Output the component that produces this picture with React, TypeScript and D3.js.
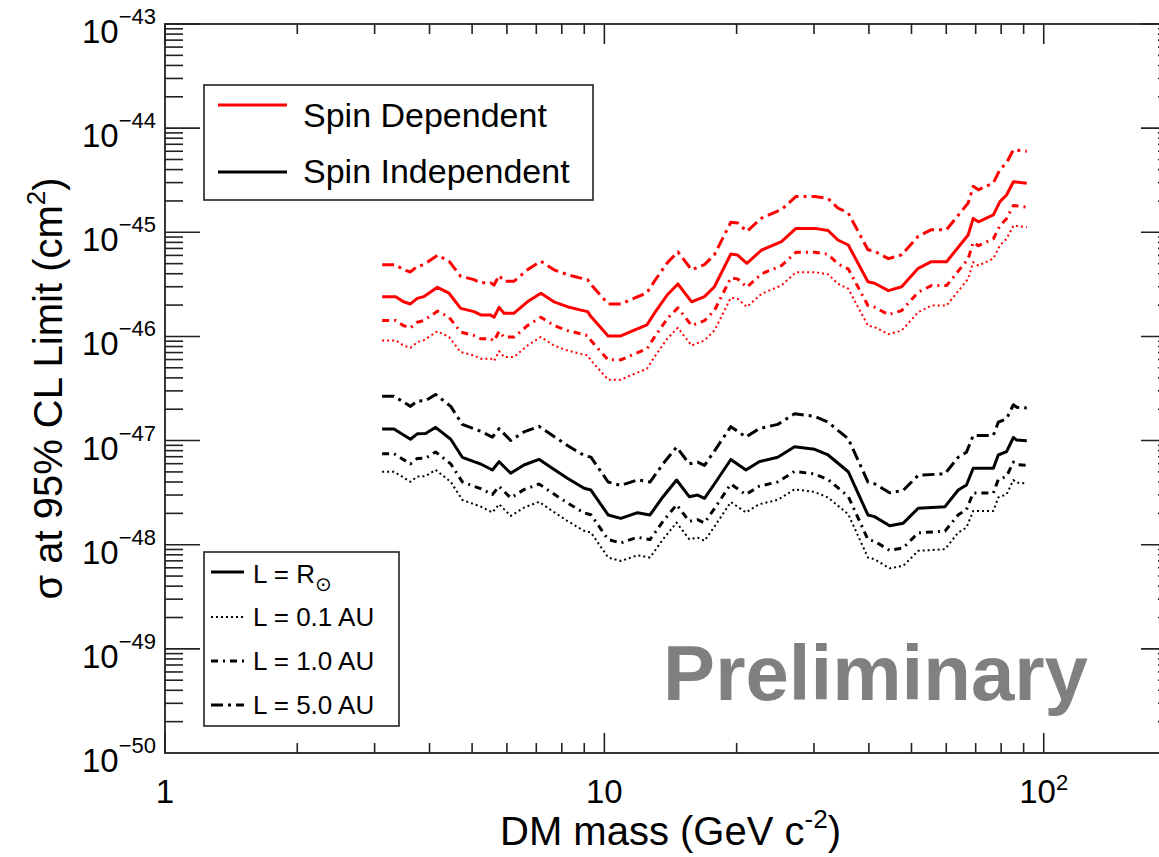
import React from "react";
import * as d3 from "d3";

// ---------- DATA ----------
const massSD = [3.12,3.35,3.49,3.62,3.75,3.88,4.17,4.43,4.71,5.05,5.23,5.51,5.61,5.76,5.91,6.23,6.68,7.17,7.68,8.24,8.84,9.16,9.32,10.2,10.9,11.7,12.5,13.0,13.9,14.7,15.8,16.9,17.8,19.4,20.1,21.1,22.8,25.3,27.3,30.1,32.3,34.0,35.9,39.8,41.2,44.3,47.5,51.8,55.5,60.1,67.3,69.1,71.0,76.8,79.5,82.3,85.3,91.5];
const sdRsun = [2.41e-46,2.41e-46,2.15e-46,2.05e-46,2.32e-46,2.41e-46,2.96e-46,2.60e-46,1.86e-46,1.73e-46,1.61e-46,1.61e-46,1.53e-46,1.90e-46,1.67e-46,1.67e-46,2.15e-46,2.60e-46,2.15e-46,1.93e-46,1.79e-46,1.73e-46,1.55e-46,1.01e-46,1.01e-46,1.15e-46,1.29e-46,1.67e-46,2.50e-46,3.19e-46,2.15e-46,2.41e-46,3.00e-46,6.18e-46,6.05e-46,5.04e-46,6.76e-46,8.12e-46,1.09e-45,1.09e-45,1.04e-45,8.43e-46,7.55e-46,3.35e-46,3.24e-46,2.75e-46,3.00e-46,4.51e-46,5.22e-46,5.22e-46,9.42e-46,1.36e-45,1.26e-45,1.47e-45,1.97e-45,2.28e-45,3.06e-45,2.95e-45];
const sd01AU = [9.16e-47,9.16e-47,8.17e-47,7.79e-47,8.82e-47,9.16e-47,1.12e-46,9.88e-47,7.07e-47,6.57e-47,6.12e-47,6.12e-47,5.81e-47,7.22e-47,6.35e-47,6.35e-47,8.17e-47,9.88e-47,8.17e-47,7.33e-47,6.80e-47,6.57e-47,5.89e-47,3.84e-47,3.84e-47,4.37e-47,4.90e-47,6.35e-47,9.50e-47,1.21e-46,8.17e-47,9.16e-47,1.14e-46,2.35e-46,2.30e-46,1.92e-46,2.57e-46,3.09e-46,4.14e-46,4.14e-46,3.95e-46,3.20e-46,2.87e-46,1.27e-46,1.23e-46,1.05e-46,1.14e-46,1.71e-46,1.98e-46,1.98e-46,3.58e-46,5.17e-46,4.79e-46,5.59e-46,7.49e-46,8.66e-46,1.16e-45,1.12e-45];
const sd10AU = [1.42e-46,1.42e-46,1.27e-46,1.21e-46,1.37e-46,1.42e-46,1.75e-46,1.53e-46,1.10e-46,1.02e-46,9.50e-47,9.50e-47,9.03e-47,1.12e-46,9.85e-47,9.85e-47,1.27e-46,1.53e-46,1.27e-46,1.14e-46,1.06e-46,1.02e-46,9.15e-47,5.96e-47,5.96e-47,6.79e-47,7.61e-47,9.85e-47,1.48e-46,1.88e-46,1.27e-46,1.42e-46,1.77e-46,3.65e-46,3.57e-46,2.97e-46,3.99e-46,4.79e-46,6.43e-46,6.43e-46,6.14e-46,4.97e-46,4.45e-46,1.98e-46,1.91e-46,1.62e-46,1.77e-46,2.66e-46,3.08e-46,3.08e-46,5.56e-46,8.02e-46,7.43e-46,8.67e-46,1.16e-45,1.35e-45,1.81e-45,1.74e-45];
const sd50AU = [4.89e-46,4.89e-46,4.36e-46,4.16e-46,4.71e-46,4.89e-46,6.01e-46,5.28e-46,3.78e-46,3.51e-46,3.27e-46,3.27e-46,3.11e-46,3.86e-46,3.39e-46,3.39e-46,4.36e-46,5.28e-46,4.36e-46,3.92e-46,3.63e-46,3.51e-46,3.15e-46,2.05e-46,2.05e-46,2.33e-46,2.62e-46,3.39e-46,5.08e-46,6.48e-46,4.36e-46,4.89e-46,6.09e-46,1.25e-45,1.23e-45,1.02e-45,1.37e-45,1.65e-45,2.21e-45,2.21e-45,2.11e-45,1.71e-45,1.53e-45,6.80e-46,6.58e-46,5.58e-46,6.09e-46,9.16e-46,1.06e-45,1.06e-45,1.91e-45,2.76e-45,2.56e-45,2.98e-45,4.00e-45,4.63e-45,6.21e-45,5.99e-45];

const massSI = [3.12,3.32,3.62,3.75,3.92,4.13,4.47,4.75,5.05,5.23,5.56,5.76,6.12,6.56,7.10,7.55,8.24,8.99,9.32,10.2,10.9,11.9,12.7,13.6,14.6,15.6,16.3,16.9,17.8,19.4,21.0,22.5,24.8,27.1,30.1,32.3,35.9,39.8,41.2,44.6,47.9,51.8,59.6,63.9,66.7,69.1,76.8,78.8,82.3,85.3,86.8,91.5];
const siRsun = [1.29e-47,1.29e-47,1.03e-47,1.16e-47,1.17e-47,1.34e-47,1.03e-47,6.91e-48,6.27e-48,5.96e-48,5.22e-48,6.27e-48,4.85e-48,5.83e-48,6.61e-48,5.54e-48,4.34e-48,3.48e-48,3.35e-48,1.93e-48,1.79e-48,2.03e-48,1.93e-48,2.89e-48,4.18e-48,2.89e-48,3.00e-48,2.79e-48,3.83e-48,6.58e-48,5.22e-48,6.27e-48,6.91e-48,8.73e-48,8.24e-48,7.27e-48,5.02e-48,1.93e-48,1.86e-48,1.52e-48,1.61e-48,2.24e-48,2.32e-48,3.35e-48,3.74e-48,5.42e-48,5.42e-48,7.27e-48,7.82e-48,1.07e-47,1.01e-47,9.97e-48];
const si01AU = [5.03e-48,5.03e-48,4.02e-48,4.52e-48,4.56e-48,5.23e-48,4.02e-48,2.69e-48,2.45e-48,2.32e-48,2.04e-48,2.45e-48,1.89e-48,2.27e-48,2.58e-48,2.16e-48,1.69e-48,1.36e-48,1.31e-48,7.53e-49,6.98e-49,7.92e-49,7.53e-49,1.13e-48,1.63e-48,1.13e-48,1.17e-48,1.09e-48,1.49e-48,2.57e-48,2.04e-48,2.45e-48,2.69e-48,3.40e-48,3.21e-48,2.84e-48,1.96e-48,7.53e-49,7.25e-49,5.93e-49,6.28e-49,8.74e-49,9.05e-49,1.31e-48,1.46e-48,2.11e-48,2.11e-48,2.84e-48,3.05e-48,4.17e-48,3.94e-48,3.89e-48];
const si10AU = [7.48e-48,7.48e-48,5.97e-48,6.73e-48,6.79e-48,7.77e-48,5.97e-48,4.01e-48,3.64e-48,3.46e-48,3.03e-48,3.64e-48,2.81e-48,3.38e-48,3.83e-48,3.21e-48,2.52e-48,2.02e-48,1.94e-48,1.12e-48,1.04e-48,1.18e-48,1.12e-48,1.68e-48,2.42e-48,1.68e-48,1.74e-48,1.62e-48,2.22e-48,3.82e-48,3.03e-48,3.64e-48,4.01e-48,5.06e-48,4.78e-48,4.22e-48,2.91e-48,1.12e-48,1.08e-48,8.82e-49,9.34e-49,1.30e-48,1.35e-48,1.94e-48,2.17e-48,3.14e-48,3.14e-48,4.22e-48,4.54e-48,6.21e-48,5.86e-48,5.78e-48];
const si50AU = [2.67e-47,2.67e-47,2.13e-47,2.40e-47,2.42e-47,2.77e-47,2.13e-47,1.43e-47,1.30e-47,1.23e-47,1.08e-47,1.30e-47,1.00e-47,1.21e-47,1.37e-47,1.15e-47,8.98e-48,7.20e-48,6.93e-48,4.00e-48,3.71e-48,4.20e-48,4.00e-48,5.98e-48,8.65e-48,5.98e-48,6.21e-48,5.78e-48,7.93e-48,1.36e-47,1.08e-47,1.30e-47,1.43e-47,1.81e-47,1.71e-47,1.50e-47,1.04e-47,4.00e-48,3.85e-48,3.15e-48,3.33e-48,4.64e-48,4.80e-48,6.93e-48,7.74e-48,1.12e-47,1.12e-47,1.50e-47,1.62e-47,2.21e-47,2.09e-47,2.06e-47];

const yMajorValues = [1e-43, 1e-44, 1e-45, 1e-46, 1e-47, 1e-48, 1e-49, 1e-50];
const yExponents = ["−43","−44","−45","−46","−47","−48","−49","−50"];
const xTickLabels = [
  { value: 1, base: "1", sup: "" },
  { value: 10, base: "10", sup: "" },
  { value: 100, base: "10", sup: "2" },
];
const legendTop = ["Spin Dependent", "Spin Independent"];
const legendBottom = ["L = 0.1 AU", "L = 1.0 AU", "L = 5.0 AU"];

// ---------- STYLE ----------
const FONT = "'Liberation Sans', Arial, Helvetica, sans-serif";
const RED = "#ff0000";
const BLACK = "#000000";
const DASH: Record<string, string | undefined> = {
  solid: undefined,
  dot: "2 3",
  dash1: "7 5 2 5",
  dash5: "12 5 3 5",
};
const WIDTH: Record<string, number> = { solid: 3, dot: 2, dash1: 3, dash5: 3 };

export default function App() {
  const W = 1159, H = 857;
  const left = 165, right = 1176, top = 24, bottom = 753;
  const x = d3.scaleLog().domain([1, 200]).range([left, right]);
  const y = d3.scaleLog().domain([1e-50, 1e-43]).range([bottom, top]);

  const series = [
    { m: massSD, v: sd50AU, c: RED, s: "dash5" },
    { m: massSD, v: sd10AU, c: RED, s: "dash1" },
    { m: massSD, v: sd01AU, c: RED, s: "dot" },
    { m: massSD, v: sdRsun, c: RED, s: "solid" },
    { m: massSI, v: si50AU, c: BLACK, s: "dash5" },
    { m: massSI, v: si10AU, c: BLACK, s: "dash1" },
    { m: massSI, v: si01AU, c: BLACK, s: "dot" },
    { m: massSI, v: siRsun, c: BLACK, s: "solid" },
  ];

  const line = d3
    .line<[number, number]>()
    .x((d) => x(d[0]))
    .y((d) => y(d[1]));

  const isMajor = (t: number) => Math.abs(Math.log10(t) - Math.round(Math.log10(t))) < 1e-6;
  const yTicks = y.ticks();
  const xTicks = x.ticks().filter((t) => t <= 200.0001);

  const tickStroke = "#222";

  return (
    <svg
      width={W}
      height={H}
      style={{ position: "absolute", left: 0, top: 0, background: "#fff" }}
      fontFamily={FONT}
    >
      <rect x={0} y={0} width={W} height={H} fill="#fff" />

      {/* curves */}
      {series.map((s, i) => (
        <path
          key={i}
          d={line(s.m.map((m, j) => [m, s.v[j]] as [number, number])) || ""}
          fill="none"
          stroke={s.c}
          strokeWidth={WIDTH[s.s]}
          strokeDasharray={DASH[s.s]}
          strokeLinejoin="round"
        />
      ))}

      {/* Y ticks */}
      {yTicks.map((t, i) => {
        const yy = y(t);
        const len = isMajor(t) ? 35 : 18;
        return (
          <g key={"yt" + i} stroke={tickStroke} strokeWidth={1.6}>
            <line x1={left} x2={left + len} y1={yy} y2={yy} />
            <line x1={right} x2={right - len} y1={yy} y2={yy} />
          </g>
        );
      })}
      {/* X ticks */}
      {xTicks.map((t, i) => {
        const xx = x(t);
        const len = isMajor(t) ? 20 : 10;
        return (
          <g key={"xt" + i} stroke={tickStroke} strokeWidth={1.6}>
            <line x1={xx} x2={xx} y1={bottom} y2={bottom - len} />
            <line x1={xx} x2={xx} y1={top} y2={top + len} />
          </g>
        );
      })}

      {/* frame */}
      <rect x={left} y={top} width={right - left} height={bottom - top} fill="none" stroke={tickStroke} strokeWidth={1.8} />

      {/* Y tick labels */}
      {yMajorValues.map((t, i) => (
        <text key={"yl" + i} x={156} y={y(t) + 19} textAnchor="end" fontSize={33} fill="#000">
          10
          <tspan fontSize={22} dy={-19}>
            {yExponents[i]}
          </tspan>
        </text>
      ))}

      {/* X tick labels */}
      {xTickLabels.map((l, i) => (
        <text key={"xl" + i} x={x(l.value)} y={803} textAnchor="middle" fontSize={33} fill="#000">
          {l.base}
          {l.sup && (
            <tspan fontSize={22} dy={-13}>
              {l.sup}
            </tspan>
          )}
        </text>
      ))}

      {/* axis titles */}
      <text x={(left + right) / 2} y={845} textAnchor="middle" fontSize={40} fill="#000">
        DM mass (GeV c
        <tspan fontSize={26} dy={-17}>-2</tspan>
        <tspan dy={17}>)</tspan>
      </text>
      <text
        transform={`translate(62,${(top + bottom) / 2}) rotate(-90)`}
        textAnchor="middle"
        fontSize={40}
        fill="#000"
      >
        σ at 95% CL Limit (cm
        <tspan fontSize={26} dy={-17}>2</tspan>
        <tspan dy={17}>)</tspan>
      </text>

      {/* Preliminary */}
      <text x={1088} y={700} textAnchor="end" fontSize={78} fontWeight="bold" fill="#808080">
        Preliminary
      </text>

      {/* legend top */}
      <rect x={204} y={85} width={389} height={115} fill="#fff" stroke={tickStroke} strokeWidth={1.6} />
      <line x1={218} x2={287} y1={105} y2={105} stroke={RED} strokeWidth={3} />
      <text x={303} y={127} fontSize={34} fill="#000">{legendTop[0]}</text>
      <line x1={218} x2={287} y1={172} y2={172} stroke={BLACK} strokeWidth={3} />
      <text x={303} y={183} fontSize={34} fill="#000">{legendTop[1]}</text>

      {/* legend bottom */}
      <rect x={204} y={552} width={195} height={174} fill="#fff" stroke={tickStroke} strokeWidth={1.6} />
      <line x1={211} x2={244} y1={572} y2={572} stroke={BLACK} strokeWidth={3} />
      <text x={253} y={583} fontSize={26} fill="#000">
        L = R
        <tspan fontFamily="'DejaVu Sans', sans-serif" fontSize={20} dy={8}>⊙</tspan>
      </text>
      {(["dot", "dash1", "dash5"]).map((s, i) => (
        <g key={"lg" + i}>
          <line
            x1={211}
            x2={244}
            y1={617 + i * 44}
            y2={617 + i * 44}
            stroke={BLACK}
            strokeWidth={WIDTH[s]}
            strokeDasharray={DASH[s]}
          />
          <text x={253} y={626 + i * 44} fontSize={26} fill="#000">
            {legendBottom[i]}
          </text>
        </g>
      ))}
    </svg>
  );
}
